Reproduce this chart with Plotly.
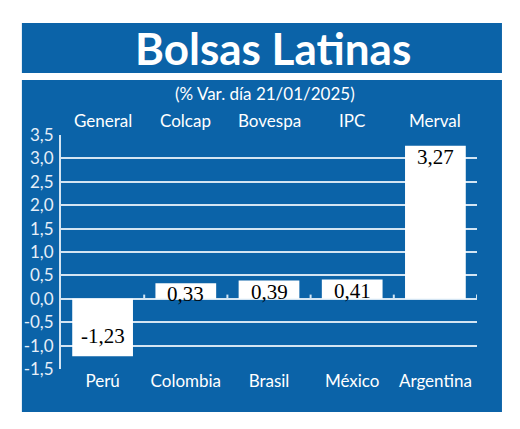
import plotly.graph_objects as go

# Data
countries = ["Perú", "Colombia", "Brasil", "México", "Argentina"]
indices   = ["General", "Colcap", "Bovespa", "IPC", "Merval"]
values    = [-1.23, 0.33, 0.39, 0.41, 3.27]
y_ticks   = [3.5, 3.0, 2.5, 2.0, 1.5, 1.0, 0.5, 0.0, -0.5, -1.0, -1.5]

title    = "Bolsas Latinas"
subtitle = "(% Var. día 21/01/2025)"

# Style
BLUE  = "#0b63a8"
GRID  = "#d4e5f3"
LIGHT = "#e6eff8"
SANS  = "Lato, 'Open Sans', sans-serif"
SERIF = "'Liberation Serif', serif"


def fmt(v, nd):
    return f"{v:.{nd}f}".replace(".", ",")


fig = go.Figure(go.Bar(
    x=countries,
    y=values,
    width=0.73,
    marker=dict(color="white", line=dict(width=0)),
    hoverinfo="skip",
))

# value labels inside the bar ends
for c, v in zip(countries, values):
    fig.add_annotation(
        x=c, y=v, text=fmt(v, 2), showarrow=False,
        yanchor="top" if v >= 0 else "bottom",
        yshift=3 if v >= 0 else 6,
        font=dict(family=SERIF, size=21, color="black"),
    )

# index names above the plot
for c, name in zip(countries, indices):
    fig.add_annotation(
        x=c, y=1, yref="paper", yanchor="middle", yshift=15,
        text=name, showarrow=False,
        font=dict(family=SANS, size=17, color="white"),
    )

# blue panels + small ticks on the zero line between categories
shapes = [
    dict(type="rect", xref="paper", yref="paper",
         x0=-0.094, x1=1.06, y0=1.265, y1=1.479,
         fillcolor=BLUE, line=dict(width=0), layer="below"),
    dict(type="rect", xref="paper", yref="paper",
         x0=-0.094, x1=1.06, y0=-0.184, y1=1.235,
         fillcolor=BLUE, line=dict(width=0), layer="below"),
]
for i in range(len(countries)):
    shapes.append(dict(type="line", xref="x", yref="y",
                       x0=i + 0.5, x1=i + 0.5, y0=0, y1=0.09,
                       line=dict(color=GRID, width=2)))

fig.add_annotation(
    x=0.509, y=1.37, xref="paper", yref="paper", showarrow=False,
    xanchor="center", yanchor="middle",
    text=f"<b>{title}</b>",
    font=dict(family=SANS, size=44, color="white"),
)
fig.add_annotation(
    x=0.49, y=1.179, xref="paper", yref="paper", showarrow=False,
    xanchor="center", yanchor="middle",
    text=subtitle,
    font=dict(family=SANS, size=17, color="white"),
)

# page body has an 8px margin, so the figure is shifted by 8px
fig.update_layout(
    width=512, height=421,
    margin=dict(l=53, r=43, t=127, b=60, autoexpand=False),
    paper_bgcolor="white",
    plot_bgcolor="rgba(0,0,0,0)",
    showlegend=False,
    shapes=shapes,
    xaxis=dict(
        showgrid=False, zeroline=False, showline=False, automargin=False,
        ticks="", tickfont=dict(family=SANS, size=17, color="white"),
        range=[-0.5, 4.5],
    ),
    yaxis=dict(
        range=[-1.5, 3.5], automargin=False,
        tickvals=y_ticks,
        ticktext=[fmt(t, 1) for t in y_ticks],
        tickfont=dict(family=SANS, size=17, color=LIGHT),
        showgrid=True, gridcolor=GRID, gridwidth=2,
        zeroline=True, zerolinecolor=GRID, zerolinewidth=2,
        showline=True, linecolor=GRID, linewidth=2,
        ticks="", ticklabelstandoff=2,
    ),
)

fig.write_html("out.html")
